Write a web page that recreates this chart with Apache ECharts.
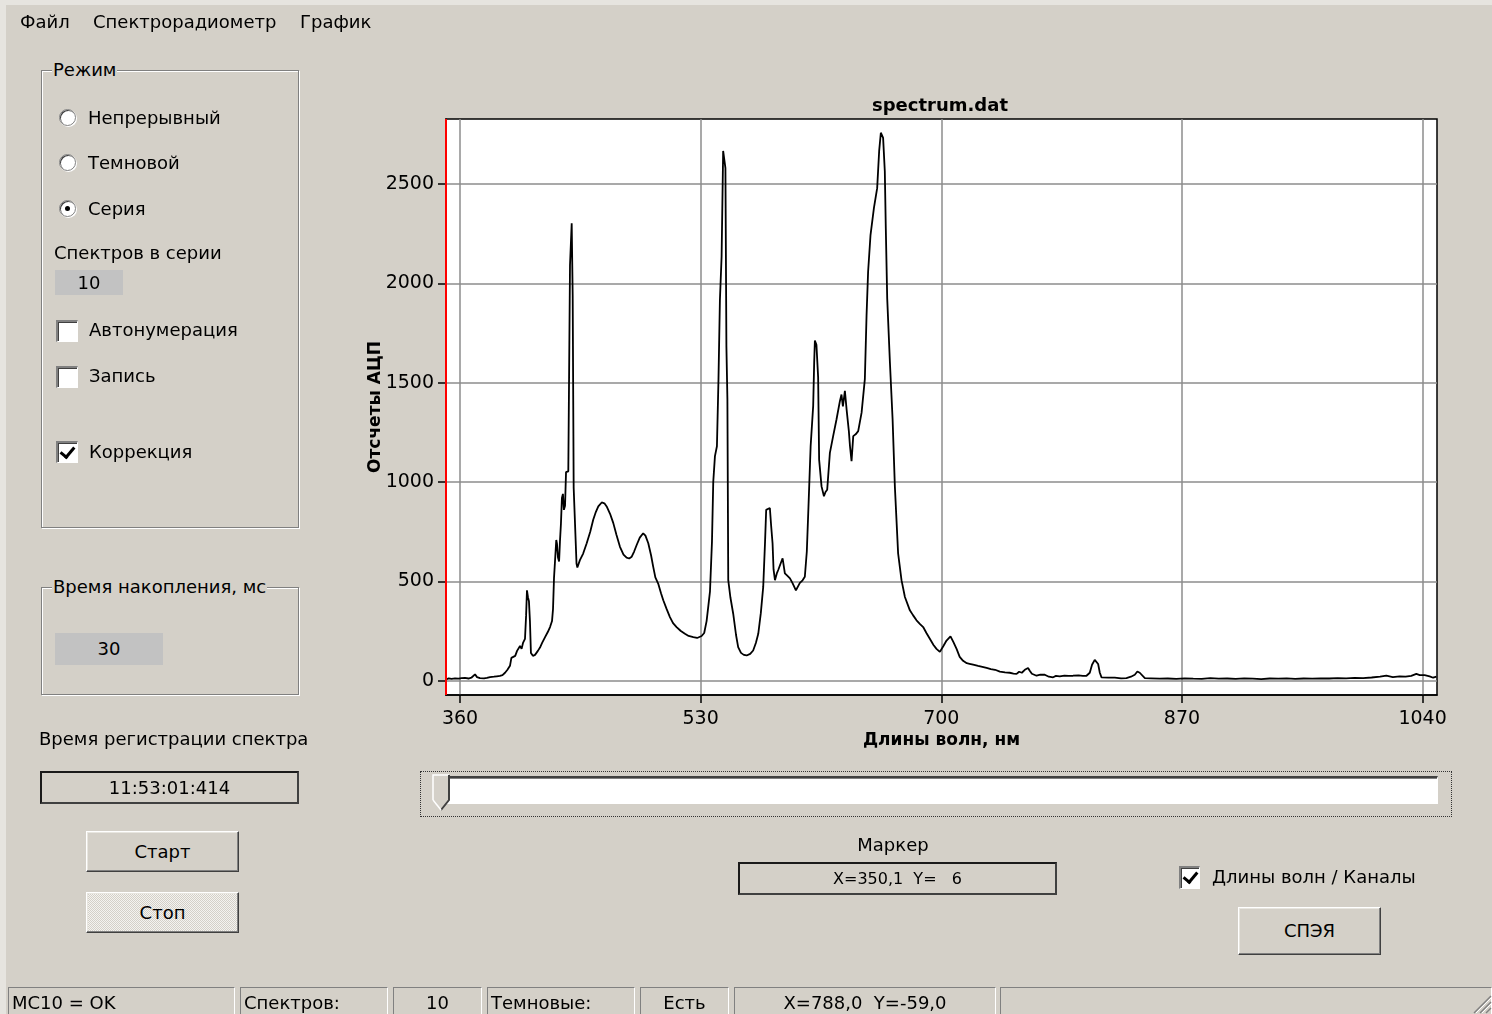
<!DOCTYPE html>
<html><head><meta charset="utf-8">
<script src="https://cdn.jsdelivr.net/npm/echarts@6/dist/echarts.min.js"></script>
<style>
html,body{margin:0;padding:0;}
body{width:1492px;height:1014px;background:#d4d0c8;position:relative;overflow:hidden;font-family:"DejaVu Sans",sans-serif;font-size:18px;color:#000;}
#chart{position:absolute;left:0;top:0;width:1492px;height:1014px;z-index:0;}
.ui{position:absolute;z-index:2;}
.t{position:absolute;z-index:2;height:22px;line-height:22px;white-space:pre;}
.grp{position:absolute;z-index:1;border:1px solid #808080;box-shadow:1px 1px 0 #fff, inset 1px 1px 0 #fff;}
.grp .lbl{position:absolute;left:10px;top:-12px;height:22px;line-height:22px;background:#d4d0c8;padding:0 1px;white-space:pre;}
.radio{position:absolute;z-index:2;width:17px;height:17px;border-radius:50%;background:#fff;border:1px solid #808080;box-shadow:inset 1px 1px 0 #404040, 1px 1px 0 #fff;box-sizing:border-box;}
.radio.on::after{content:"";position:absolute;left:5px;top:5px;width:5px;height:5px;border-radius:50%;background:#000;}
.chk{position:absolute;z-index:2;width:22px;height:22px;background:#fff;box-sizing:border-box;border-top:2px solid #808080;border-left:2px solid #808080;border-right:1px solid #fff;border-bottom:1px solid #fff;box-shadow:inset 1px 1px 0 #404040;}
.chk.on::after{content:"";position:absolute;left:5px;top:1px;width:6px;height:11px;border-right:3px solid #000;border-bottom:3px solid #000;transform:rotate(40deg);}
.val{position:absolute;z-index:2;background:#c2c2c2;text-align:center;}
.box{position:absolute;z-index:2;box-sizing:border-box;border-top:2px solid #1a1a1a;border-left:2px solid #1a1a1a;border-right:2px solid #404040;border-bottom:2px solid #404040;text-align:center;white-space:pre;}
.btn{position:absolute;z-index:2;box-sizing:border-box;text-align:center;border-top:1px solid #fff;border-left:1px solid #fff;border-right:1px solid #404040;border-bottom:1px solid #404040;box-shadow:inset -1px -1px 0 #808080, inset 1px 1px 0 #e8e6e0;background:#d4d0c8;}
.stat{position:absolute;z-index:2;top:987px;height:40px;box-sizing:border-box;border-top:1px solid #808080;border-left:1px solid #808080;border-right:1px solid #fff;line-height:30px;white-space:pre;overflow:hidden;}
</style></head>
<body>
<div class="ui" style="left:0;top:0;width:6px;height:1014px;background:#e6e4df;"></div>
<div class="ui" style="left:0;top:0;width:1492px;height:5px;background:#e6e4df;"></div>

<div class="t" style="left:20px;top:11px;">Файл</div>
<div class="t" style="left:93px;top:11px;">Спектрорадиометр</div>
<div class="t" style="left:300px;top:11px;">График</div>

<div class="grp" style="left:41px;top:70px;width:256px;height:456px;"><div class="lbl">Режим</div></div>
<div class="radio" style="left:59px;top:109px;"></div><div class="t" style="left:88px;top:107px;">Непрерывный</div>
<div class="radio" style="left:59px;top:154px;"></div><div class="t" style="left:88px;top:152px;">Темновой</div>
<div class="radio on" style="left:59px;top:200px;"></div><div class="t" style="left:88px;top:198px;">Серия</div>
<div class="t" style="left:54px;top:242px;">Спектров в серии</div>
<div class="val" style="left:55px;top:270px;width:68px;height:25px;line-height:25px;">10</div>
<div class="chk" style="left:56px;top:320px;"></div><div class="t" style="left:89px;top:319px;">Автонумерация</div>
<div class="chk" style="left:56px;top:366px;"></div><div class="t" style="left:89px;top:365px;">Запись</div>
<div class="chk on" style="left:56px;top:441px;"></div><div class="t" style="left:89px;top:441px;">Коррекция</div>

<div class="grp" style="left:41px;top:587px;width:256px;height:106px;"><div class="lbl">Время накопления, мс</div></div>
<div class="val" style="left:55px;top:633px;width:108px;height:32px;line-height:32px;">30</div>

<div class="t" style="left:39px;top:728px;">Время регистрации спектра</div>
<div class="box" style="left:40px;top:771px;width:259px;height:33px;line-height:29px;">11:53:01:414</div>
<div class="btn" style="left:86px;top:831px;width:153px;height:41px;line-height:39px;">Старт</div>
<div class="btn" style="left:86px;top:892px;width:153px;height:41px;line-height:39px;background-color:#d4d0c8;background-image:repeating-conic-gradient(#f4f3f0 0 25%, #d4d0c8 0 50%);background-size:2px 2px;">Стоп</div>

<div class="ui" style="left:420px;top:771px;width:1032px;height:46px;box-sizing:border-box;border:1px dotted #333;"></div>
<div class="ui" style="left:441px;top:776px;width:997px;height:28px;box-sizing:border-box;background:#fff;border-top:2px solid #404040;border-left:2px solid #808080;border-right:1px solid #fff;border-bottom:1px solid #fff;box-shadow:inset 0 1px 0 #808080;"></div>
<svg class="ui" style="left:432px;top:774px;" width="20" height="38" viewBox="0 0 20 38">
<polygon points="1,1 17,1 17,26 9,36 1,26" fill="#d4d0c8"/>
<polyline points="1,26 1,1 17,1" fill="none" stroke="#fff" stroke-width="1.5"/>
<polyline points="17,1 17,26 9,36" fill="none" stroke="#404040" stroke-width="2"/>
<polyline points="1,26 9,36" fill="none" stroke="#fff" stroke-width="1.5"/>
</svg>

<div class="t" style="left:843px;top:834px;width:100px;text-align:center;">Маркер</div>
<div class="box" style="left:738px;top:862px;width:319px;height:33px;line-height:29px;font-size:16px;">X=350,1  Y=   6</div>
<div class="chk on" style="left:1179px;top:866px;width:21px;height:23px;"></div>
<div class="t" style="left:1212px;top:866px;">Длины волн / Каналы</div>
<div class="btn" style="left:1238px;top:907px;width:143px;height:48px;line-height:46px;">СПЭЯ</div>

<div class="stat" style="left:8px;width:227px;padding-left:3px;">MC10 = OK</div>
<div class="stat" style="left:240px;width:148px;padding-left:3px;">Спектров:</div>
<div class="stat" style="left:393px;width:89px;text-align:center;">10</div>
<div class="stat" style="left:487px;width:148px;padding-left:3px;">Темновые:</div>
<div class="stat" style="left:640px;width:89px;text-align:center;">Есть</div>
<div class="stat" style="left:734px;width:262px;text-align:center;">X=788,0  Y=-59,0</div>
<div class="stat" style="left:1000px;width:492px;"></div>
<svg class="ui" style="left:1470px;top:992px;" width="22" height="22">
<line x1="21" y1="4" x2="4" y2="21" stroke="#808080" stroke-width="1.5"/>
<line x1="21" y1="10" x2="10" y2="21" stroke="#808080" stroke-width="1.5"/>
<line x1="21" y1="16" x2="16" y2="21" stroke="#808080" stroke-width="1.5"/>
<line x1="21" y1="6" x2="6" y2="21" stroke="#fff" stroke-width="1"/>
<line x1="21" y1="12" x2="12" y2="21" stroke="#fff" stroke-width="1"/>
</svg>

<div id="chart"></div>
<script>
// ---- data ----
const chartTitle = 'spectrum.dat';
const xName = 'Длины волн, нм';
const yName = 'Отсчеты АЦП';
const xMin = 350.1, xMax = 1050.2;
const yMin = -72, yMax = 2827;
const xTicks = [360, 530, 700, 870, 1040];
const yTicks = [0, 500, 1000, 1500, 2000, 2500];
const markerX = [350.1];
const wavelengths = [
350.1,352,354,356.5,359,361,363.5,366,368,370.6,372,374.1,377,379,381.2,384,386,388.2,390,391.8,
393.5,395.3,396.3,397.4,399,400.3,401.3,402.4,403.5,404.5,405.9,406.7,407.3,408.0,408.7,409.4,410.1,411.5,413.0,415,
416.5,418,420.0,422,423.6,425,425.7,426.4,427.1,428.0,428.5,429.2,430.0,430.6,431.3,432.0,432.7,433.4,434.2,434.9,
436.5,437.7,438.9,439.6,440.3,441.5,442.3,442.9,444.7,447,449.5,452,454.1,456,457.7,460.1,462,463.6,466,468.3,
470.5,473.0,475.5,477.7,479.5,481.3,483,484.8,487,489.4,491,493.0,495,496.5,498,500.0,502,503.6,506,508.3,
510.5,513.0,516,518.9,521.5,524.8,527.5,530.7,532.5,534.2,535.5,536.6,538.0,538.9,540.1,541.5,542.6,543.6,544.8,545.9,
547.5,548.2,548.9,549.5,551,553.0,555,556.5,558.5,560.5,562.5,565,567.1,569,570.7,572.5,574.2,575.5,576.3,577.2,
578.9,579.8,580.8,581.5,582.5,583.8,584.8,586.5,587.9,589.5,591,593.1,595,597.3,598.8,600.1,602,603.6,605,606.0,
607.7,609.5,610.2,610.7,611.8,613.0,613.7,615.4,617.1,618.2,619.4,621.3,623.6,626.0,628.4,629.5,630.5,631.9,633.1,634.7,
635.5,636.6,637.8,639.5,641.3,643.7,646.0,647.2,648.3,650.0,652.4,654.7,656.1,657.3,658.9,660.1,660.8,661.8,663.7,665.6,
667.2,669.5,671.9,674.3,677.8,680,682.5,685,687.2,689.5,691.9,694.5,696.6,699.0,701.5,703.7,706.5,708.5,710.8,713,
715.4,718,720,722.5,726,729,732.0,735,738,741.4,745,748.4,751,753.2,755,756.9,759,761.3,762.5,764.0,
767.3,770,773.1,776,779.0,781,783.7,787,790,793.1,797,800,802.6,804.9,806.5,808.4,810.8,812,813.2,818,
822.6,827,830.8,834,836.7,838.5,840.2,843.8,848,854.4,860,866,872,878,884,890,896,902,908,914,
920,926,932,938,944,950,956,962,968,974,980,986,992,998,1004,1010,1014.4,1019,1023.8,1028,
1032,1035.6,1038,1041.5,1045,1047.5,1049.8,1050.2
];
const counts = [
6,12,9,12,10,13,14,11,15,32,18,13,12,14,18,20,22,24,28,40,
55,75,115,110,125,150,140,175,160,190,210,330,455,420,400,300,140,125,130,150,
167,190,218,245,270,300,360,516,600,708,690,620,600,700,790,920,940,860,880,1050,
1054,2091,2302,1940,970,960,590,570,607,640,692,750,810,850,877,897,893,877,840,793,
735,674,635,619,615,624,650,683,720,742,730,692,630,573,520,489,440,405,360,320,
290,270,250,236,225,219,215,225,240,300,380,450,700,1000,1130,1180,1518,1914,2135,2666,
2580,1680,1417,506,420,337,230,169,140,130,127,135,152,190,236,340,472,700,860,870,
869,780,692,560,506,540,557,590,616,540,530,515,490,455,475,492,505,523,650,843,
1180,1383,1600,1712,1690,1527,1113,978,928,950,961,1147,1231,1316,1408,1440,1380,1459,1366,1256,
1180,1105,1231,1240,1256,1349,1518,1838,2058,2243,2378,2479,2665,2758,2732,2564,2277,1923,1603,1316,
978,641,506,421,354,330,304,285,270,240,211,180,160,145,175,202,223,195,160,120,
100,88,85,81,75,70,64,58,55,46,42,40,36,34,45,40,55,64,50,35,
25,30,30,20,17,24,22,26,24,25,27,24,25,40,80,105,84,40,17,15,
15,12,13,20,30,46,40,13,12,10,11,9,12,10,9,13,10,11,9,12,
10,8,11,10,12,9,11,10,12,11,13,12,14,13,16,20,25,18,22,20,
24,34,28,28,22,15,20,18
];

// ---- chart ----
const FONT = 'DejaVu Sans';
const seriesData = wavelengths.map((w, i) => [w, counts[i]]);
const chart = echarts.init(document.getElementById('chart'));
chart.setOption({
  animation: false,
  backgroundColor: 'transparent',
  title: {
    text: chartTitle, left: 935, top: 92, textAlign: 'center',
    textStyle: { fontFamily: FONT, fontWeight: 'bold', fontSize: 18, color: '#000' }
  },
  grid: { left: 446, top: 119, width: 991, height: 576, show: true, backgroundColor: '#fff', borderColor: '#000', borderWidth: 1.5 },
  xAxis: {
    type: 'value', min: xMin, max: xMax,
    name: xName, nameLocation: 'middle', nameGap: 37, nameMoveOverlap: false,
    nameTextStyle: { fontFamily: FONT, fontWeight: 'bold', fontSize: 17, color: '#000' },
    axisLine: { show: true, onZero: false, lineStyle: { color: '#000', width: 1.5 } },
    axisTick: { show: true, customValues: xTicks, length: 8, lineStyle: { color: '#000', width: 1.5 } },
    axisLabel: { customValues: xTicks, formatter: v => String(v), fontFamily: FONT, fontSize: 19, color: '#000', margin: 15 },
    splitLine: { show: true, lineStyle: { color: '#8c8c8c', width: 1.5 } }
  },
  yAxis: {
    type: 'value', min: yMin, max: yMax,
    name: yName, nameLocation: 'middle', nameGap: 62, nameRotate: 90, nameMoveOverlap: false,
    nameTextStyle: { fontFamily: FONT, fontWeight: 'bold', fontSize: 17, color: '#000' },
    axisLine: { show: true, onZero: false, lineStyle: { color: '#000', width: 1.5 } },
    axisTick: { show: true, customValues: yTicks, length: 8, lineStyle: { color: '#000', width: 1.5 } },
    axisLabel: { customValues: yTicks, formatter: v => String(v), fontFamily: FONT, fontSize: 19, color: '#000', margin: 12 },
    splitLine: { show: true, lineStyle: { color: '#8c8c8c', width: 1.5 } }
  },
  series: [{
    type: 'line', data: seriesData, symbol: 'none', silent: true,
    lineStyle: { color: '#000', width: 1.8 },
    markLine: {
      silent: true, symbol: ['none', 'none'], label: { show: false },
      lineStyle: { color: '#ff0000', width: 2, type: 'solid' },
      data: markerX.map(v => ({ xAxis: v }))
    }
  }]
});
</script>
</body></html>
